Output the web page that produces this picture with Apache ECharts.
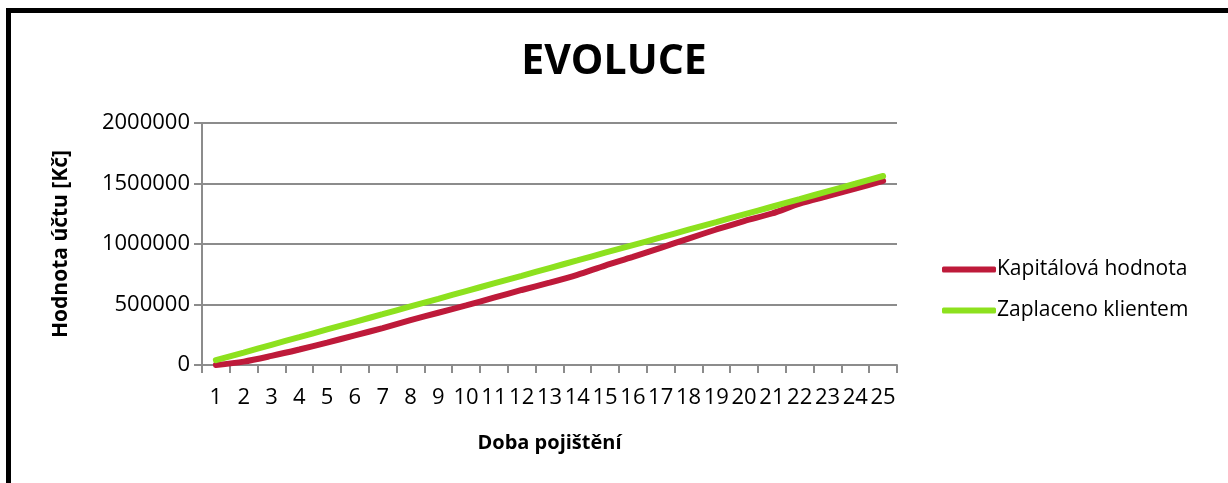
<!DOCTYPE html>
<html><head><meta charset="utf-8">
<script src="https://cdn.jsdelivr.net/npm/echarts@6/dist/echarts.min.js"></script>
<style>html,body{margin:0;padding:0;background:#fff}#c{width:1228px;height:483px}</style>
</head><body><div id="c"></div>
<script>
const title = 'EVOLUCE';
const xName = 'Doba pojištění';
const yName = 'Hodnota účtu [Kč]';
const categories = ['1','2','3','4','5','6','7','8','9','10','11','12','13','14','15','16','17','18','19','20','21','22','23','24','25'];
const seriesNames = ['Kapitálová hodnota', 'Zaplaceno klientem'];
const kapitalova = [0, 28000, 75000, 128000, 185000, 245000, 305000, 370000, 432000, 492000, 556000, 620000, 680000, 745000, 822000, 893000, 968000, 1045000, 1120000, 1190000, 1252000, 1333000, 1395000, 1458000, 1522000];
const zaplaceno = [40000, 103000, 167000, 230000, 294000, 357000, 420000, 484000, 547000, 611000, 674000, 737000, 801000, 864000, 928000, 991000, 1054000, 1118000, 1181000, 1245000, 1308000, 1371000, 1435000, 1498000, 1562000];
const yTicks = [0, 500000, 1000000, 1500000, 2000000];

const FONT = '"Open Sans", "Noto Sans", sans-serif';
const chart = echarts.init(document.getElementById('c'));
chart.setOption({
  animation: false,
  backgroundColor: '#fff',
  graphic: [{
    type: 'rect', silent: true, z: 100,
    shape: {x: 8.5, y: 10.5, width: 1300, height: 600},
    style: {fill: 'none', stroke: '#000', lineWidth: 5}
  }],
  title: {
    text: title, left: 'center', top: 37,
    textStyle: {fontFamily: FONT, fontWeight: 'bold', fontSize: 41, color: '#000'}
  },
  legend: {
    orient: 'vertical', left: 937, top: 254, itemGap: 20,
    itemWidth: 54, itemHeight: 6, icon: 'roundRect',
    data: seriesNames,
    textStyle: {fontFamily: FONT, fontSize: 21, color: '#000', padding: [0,0,0,-4]}
  },
  grid: {left: 202, right: 331, top: 123, bottom: 118},
  xAxis: {
    type: 'category', data: categories, boundaryGap: true,
    name: xName, nameLocation: 'middle', nameGap: 68,
    nameTextStyle: {fontFamily: FONT, fontWeight: 'bold', fontSize: 20, color: '#000'},
    axisLine: {lineStyle: {color: '#8c8c8c', width: 2}},
    axisTick: {show: true, length: 8, alignWithLabel: false, lineStyle: {color: '#8c8c8c', width: 2}},
    axisLabel: {interval: 0, margin: 22, fontFamily: FONT, fontSize: 22, color: '#000'}
  },
  yAxis: {
    type: 'value', min: yTicks[0], max: yTicks[yTicks.length-1], interval: yTicks[1]-yTicks[0],
    name: yName, nameLocation: 'middle', nameGap: 130, nameRotate: 90,
    nameTextStyle: {fontFamily: FONT, fontWeight: 'bold', fontSize: 21, color: '#000'},
    axisLine: {show: true, lineStyle: {color: '#8c8c8c', width: 2}},
    axisTick: {show: true, length: 8, lineStyle: {color: '#8c8c8c', width: 2}},
    splitLine: {lineStyle: {color: '#8c8c8c', width: 2}},
    axisLabel: {margin: 12, fontFamily: FONT, fontSize: 22, color: '#000', formatter: v => String(v)}
  },
  series: [
    {name: seriesNames[0], type: 'line', data: kapitalova, smooth: 0.3, showSymbol: false,
     lineStyle: {color: '#BE1A3A', width: 6, cap: 'round'}, itemStyle: {color: '#BE1A3A'}},
    {name: seriesNames[1], type: 'line', data: zaplaceno, smooth: 0.3, showSymbol: false,
     lineStyle: {color: '#8DE11E', width: 6, cap: 'round'}, itemStyle: {color: '#8DE11E'}}
  ]
});
</script></body></html>
